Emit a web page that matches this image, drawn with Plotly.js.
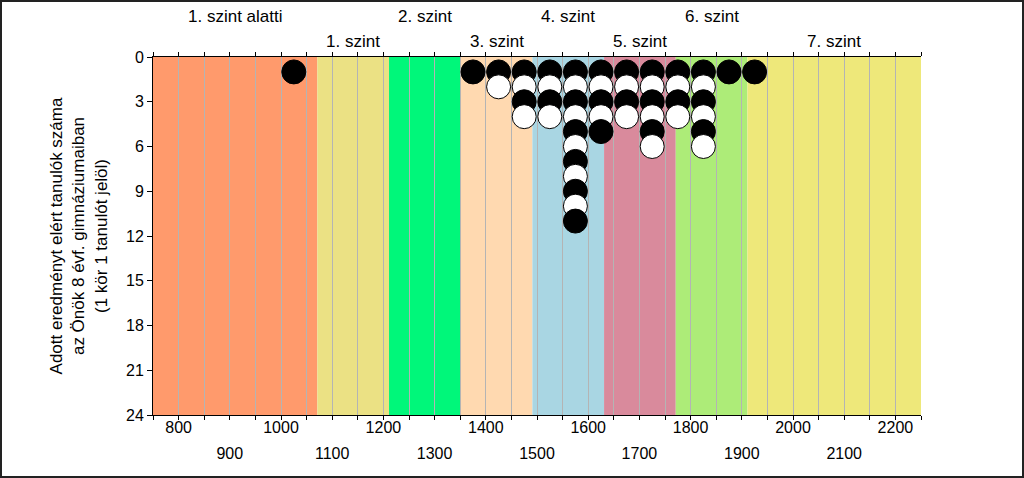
<!DOCTYPE html>
<html>
<head>
<meta charset="utf-8">
<script src="https://cdn.plot.ly/plotly-3.0.1.min.js"></script>
<style>
html,body{margin:0;padding:0;background:#fff;}
#wrap{position:relative;width:1024px;height:478px;}
#chart{width:1024px;height:478px;}
#frame{position:absolute;left:0;top:0;width:1024px;height:478px;box-sizing:border-box;border:2px solid #222;pointer-events:none;}
</style>
</head>
<body>
<div id="wrap"><div id="chart"></div><div id="frame"></div></div>
<script>
// Level band boundaries (score scale)
const bandEdges = [750, 1071, 1211, 1351, 1491, 1631, 1771, 1911, 2250];
const bandNames = ["1. szint alatti", "1. szint", "2. szint", "3. szint", "4. szint", "5. szint", "6. szint", "7. szint"];
const bandColors = ["#FF9A6C", "#EBE184", "#00F77A", "#FFD9B0", "#A9D6E3", "#D98A9C", "#ADEC78", "#EEE87A"];

// Student score bins (centre of 50-point bins) and number of students in each
const binCenters = [1025, 1375, 1425, 1475, 1525, 1575, 1625, 1675, 1725, 1775, 1825, 1875, 1925];
const binCounts  = [1, 1, 2, 4, 4, 11, 5, 4, 6, 4, 6, 1, 1];

// Tick labels
const tickRow1 = [800, 1000, 1200, 1400, 1600, 1800, 2000, 2200];
const tickRow2 = [900, 1100, 1300, 1500, 1700, 1900, 2100];
const yTicks = [0, 3, 6, 9, 12, 15, 18, 21, 24];

// Build points: row by row so lower circles overlap upper ones
const maxCount = Math.max(...binCounts);
const px = [], py = [], pc = [];
for (let k = 1; k <= maxCount; k++) {
  binCenters.forEach((c, i) => {
    if (binCounts[i] >= k) {
      px.push(c); py.push(k);
      pc.push(k % 2 === 1 ? "#000000" : "#FFFFFF");
    }
  });
}

const gridVals = [];
for (let v = 750; v <= 2250; v += 50) gridVals.push(v);
const gridText = gridVals.map(v => tickRow1.includes(v) ? String(v) : "");

const shapes = [];
for (let i = 0; i < bandNames.length; i++) {
  shapes.push({type: "rect", xref: "x", yref: "paper", x0: bandEdges[i], x1: bandEdges[i + 1], y0: 0, y1: 1,
    fillcolor: bandColors[i], line: {width: 0}, layer: "below"});
}

const font = {family: "Arial, Liberation Sans, sans-serif", size: 16, color: "#000"};
const bigFont = {family: "Arial, Liberation Sans, sans-serif", size: 17, color: "#000"};

const annotations = bandNames.map((n, i) => ({
  x: (bandEdges[i] + bandEdges[i + 1]) / 2, xref: "x",
  y: 1, yref: "paper", yshift: i % 2 === 0 ? 41 : 16,
  text: n, showarrow: false, yanchor: "middle",
  font: bigFont
}));

const traces = [
  {x: px, y: py, type: "scatter", mode: "markers", hoverinfo: "skip",
   marker: {size: 24, color: pc, line: {color: "#000", width: 1}}, showlegend: false},
  {x: [tickRow2[0]], y: [0], xaxis: "x2", type: "scatter", mode: "markers",
   marker: {opacity: 0}, showlegend: false, hoverinfo: "skip"}
];

const layout = {
  width: 1024, height: 478,
  margin: {l: 153, r: 103, t: 57, b: 63},
  paper_bgcolor: "#fff", plot_bgcolor: "#fff",
  font: font,
  showlegend: false,
  xaxis: {range: [750, 2250], tickmode: "array", tickvals: gridVals, ticktext: gridText,
    showgrid: true, gridcolor: "#B4B4B4", gridwidth: 1, zeroline: false,
    ticks: "outside", ticklen: 4, tickcolor: "#000", showline: true, linecolor: "#000", linewidth: 1,
    mirror: "ticks", tickfont: font, ticklabelstandoff: -6},
  xaxis2: {range: [750, 2250], overlaying: "x", side: "bottom", anchor: "y", tickmode: "array",
    tickvals: tickRow2, ticktext: tickRow2.map(String), showgrid: false, zeroline: false,
    ticks: "", showline: false, tickfont: font, ticklabelstandoff: 27},
  yaxis: {range: [24, 0], tickmode: "array", tickvals: yTicks, ticktext: yTicks.map(String),
    showgrid: false, zeroline: false, ticks: "outside", ticklen: 5, tickcolor: "#000",
    showline: true, linecolor: "#000", linewidth: 1, tickfont: font,
    title: {text: "Adott eredményt elért tanulók száma<br>az Önök 8 évf. gimnáziumaiban<br>(1 kör 1 tanulót jelöl)",
      font: bigFont, standoff: 14}},
  shapes: shapes,
  annotations: annotations
};

Plotly.newPlot("chart", traces, layout, {displayModeBar: false, staticPlot: true});
</script>
</body>
</html>
